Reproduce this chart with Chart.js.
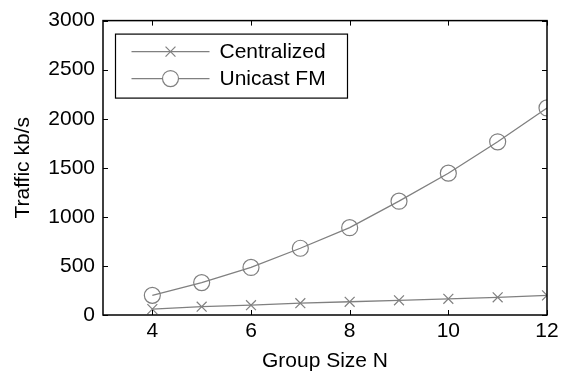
<!DOCTYPE html>
<html>
<head>
<meta charset="utf-8">
<script src="https://cdn.jsdelivr.net/npm/chart.js@4.4.0/dist/chart.umd.min.js"></script>
<style>
html,body{margin:0;padding:0;background:#fff;}
#wrap{width:566px;height:374px;}
</style>
</head>
<body>
<div id="wrap"><canvas id="c" width="566" height="374"></canvas></div>
<script>
const groupSizes = [4, 5, 6, 7, 8, 9, 10, 11, 12];
const centralized = [60, 85, 100, 120, 135, 150, 165, 180, 200];
const unicastFM = [200, 330, 485, 680, 890, 1160, 1445, 1765, 2110];
const xTicks = [4, 6, 8, 10, 12];
const yTicks = [0, 500, 1000, 1500, 2000, 2500, 3000];
const seriesNames = ['Centralized', 'Unicast FM'];

const GRAY = '#808080';
const FONT = 'Liberation Sans, Arial, sans-serif';
const FS = 21;

function pts(vals){ return groupSizes.map((n,i)=>({x:n,y:vals[i]})); }

const frame = {
  id: 'frame',
  afterDraw(chart){
    const {ctx, chartArea:a, scales} = chart;
    ctx.save();
    ctx.strokeStyle = '#000';
    ctx.lineWidth = 1.5;
    ctx.strokeRect(a.left, a.top, a.right - a.left, a.bottom - a.top);
    ctx.lineWidth = 1;
    const L = 5;
    ctx.beginPath();
    xTicks.forEach(v=>{
      const px = Math.round(scales.x.getPixelForValue(v)) + 0.5;
      ctx.moveTo(px, a.bottom); ctx.lineTo(px, a.bottom - L);
      ctx.moveTo(px, a.top); ctx.lineTo(px, a.top + L);
    });
    yTicks.forEach(v=>{
      const py = Math.round(scales.y.getPixelForValue(v)) + 0.5;
      ctx.moveTo(a.left, py); ctx.lineTo(a.left + L, py);
      ctx.moveTo(a.right, py); ctx.lineTo(a.right - L, py);
    });
    ctx.stroke();

    // legend
    const bx = a.left + 12.5, by = a.top + 13.5, bw = 232, bh = 64;
    ctx.fillStyle = '#fff';
    ctx.fillRect(bx, by, bw, bh);
    ctx.strokeStyle = '#000';
    ctx.lineWidth = 1.2;
    ctx.strokeRect(bx, by, bw, bh);
    const rows = [by + 17.5, by + 44.5];
    chart.data.datasets.forEach((ds, i)=>{
      const y = rows[i];
      ctx.strokeStyle = ds.borderColor;
      ctx.lineWidth = ds.borderWidth;
      ctx.beginPath();
      ctx.moveTo(bx + 16, y); ctx.lineTo(bx + 94, y);
      ctx.stroke();
      ctx.fillStyle = '#fff';
      ctx.strokeStyle = ds.pointBorderColor;
      ctx.lineWidth = ds.pointBorderWidth;
      Chart.helpers.drawPoint(ctx, {
        pointStyle: ds.pointStyle,
        radius: ds.pointRadius,
        borderWidth: ds.pointBorderWidth
      }, bx + 55, y);
      ctx.fillStyle = '#000';
      ctx.font = FS + 'px ' + FONT;
      ctx.textAlign = 'left';
      ctx.textBaseline = 'middle';
      ctx.fillText(ds.label, bx + 104, y + 1);
    });
    ctx.restore();
  }
};

new Chart(document.getElementById('c'), {
  type: 'line',
  data: {
    datasets: [
      {
        label: seriesNames[0],
        data: pts(centralized),
        borderColor: GRAY,
        backgroundColor: 'transparent',
        borderWidth: 1.3,
        pointStyle: 'crossRot',
        pointRadius: 7,
        pointBorderWidth: 1.2,
        pointBorderColor: GRAY,
        pointBackgroundColor: 'transparent',
        tension: 0
      },
      {
        label: seriesNames[1],
        data: pts(unicastFM),
        borderColor: GRAY,
        backgroundColor: 'transparent',
        borderWidth: 1.3,
        pointStyle: 'circle',
        pointRadius: 8,
        pointBorderWidth: 1.2,
        pointBorderColor: GRAY,
        pointBackgroundColor: 'transparent',
        tension: 0
      }
    ]
  },
  options: {
    responsive: false,
    animation: false,
    layout: { padding: { left: 0, top: 20, right: 19, bottom: 0 } },
    plugins: { legend: { display: false }, tooltip: { enabled: false } },
    scales: {
      x: {
        type: 'linear',
        min: 3, max: 12,
        afterBuildTicks: s => { s.ticks = xTicks.map(v=>({value:v})); },
        afterFit: s => { s.height = 59; },
        grid: { display: false, drawTicks: false },
        border: { display: false },
        ticks: { color: '#000', padding: 4, font: { family: FONT, size: FS }, callback: v => String(v) },
        title: { display: true, text: 'Group Size N', color: '#000', padding: { top: 0, bottom: 0 }, font: { family: FONT, size: FS } }
      },
      y: {
        min: 0, max: 3000,
        afterBuildTicks: s => { s.ticks = yTicks.map(v=>({value:v})); },
        afterFit: s => { s.width = 103; },
        grid: { display: false, drawTicks: false },
        border: { display: false },
        ticks: { color: '#000', padding: 8, font: { family: FONT, size: FS }, callback: v => String(v) },
        title: { display: true, text: 'Traffic kb/s', color: '#000', padding: { top: 11, bottom: 0 }, font: { family: FONT, size: FS } }
      }
    }
  },
  plugins: [frame]
});
</script>
</body>
</html>
